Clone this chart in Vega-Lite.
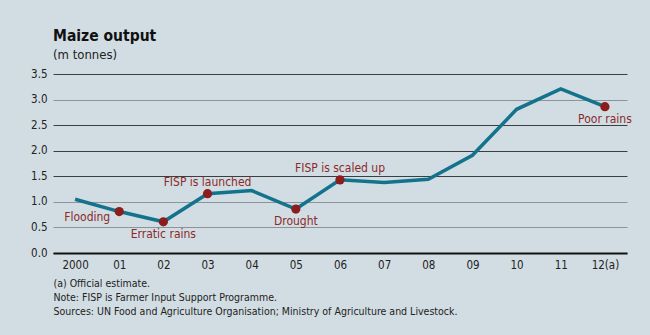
{
  "$schema": "https://vega.github.io/schema/vega-lite/v6.json",
  "width": 574,
  "height": 179,
  "autosize": "none",
  "padding": {"left": 53, "top": 74, "right": 23, "bottom": 82},
  "background": "#d2dde3",
  "config": {
    "font": "DejaVu Sans Condensed, Roboto, sans-serif",
    "view": {"stroke": null},
    "axis": {"labelFont": "DejaVu Sans Condensed, Roboto, sans-serif", "titleFont": "DejaVu Sans Condensed, Roboto, sans-serif"}
  },
  "title": {
    "text": "Maize output",
    "subtitle": "(m tonnes)",
    "anchor": "start",
    "frame": "group",
    "font": "DejaVu Sans Condensed, Roboto, sans-serif",
    "fontSize": 15.5,
    "fontWeight": "bold",
    "color": "#111",
    "subtitleFont": "DejaVu Sans Condensed, Roboto, sans-serif",
    "subtitleFontSize": 13,
    "subtitleColor": "#222",
    "subtitlePadding": 5,
    "offset": 6
  },
  "data": {
    "values": [
      {"label": "2000", "output": 1.05, "note": null, "place": null},
      {"label": "01", "output": 0.81, "note": "Flooding", "place": "left"},
      {"label": "02", "output": 0.61, "note": "Erratic rains", "place": "below"},
      {"label": "03", "output": 1.16, "note": "FISP is launched", "place": "above"},
      {"label": "04", "output": 1.22, "note": null, "place": null},
      {"label": "05", "output": 0.86, "note": "Drought", "place": "below"},
      {"label": "06", "output": 1.43, "note": "FISP is scaled up", "place": "above"},
      {"label": "07", "output": 1.38, "note": null, "place": null},
      {"label": "08", "output": 1.44, "note": null, "place": null},
      {"label": "09", "output": 1.91, "note": null, "place": null},
      {"label": "10", "output": 2.81, "note": null, "place": null},
      {"label": "11", "output": 3.21, "note": null, "place": null},
      {"label": "12(a)", "output": 2.86, "note": "Poor rains", "place": "below"}
    ]
  },
  "encoding": {
    "x": {
      "field": "label",
      "type": "ordinal",
      "sort": null,
      "scale": {"type": "point", "padding": 0.5},
      "axis": {
        "labelAngle": 0,
        "labelFontSize": 11.5,
        "labelColor": "#222",
        "labelPadding": 6,
        "ticks": false,
        "grid": false,
        "domainColor": "#111",
        "domainWidth": 2,
        "title": ["(a) Official estimate.", "Note: FISP is Farmer Input Support Programme.", "Sources: UN Food and Agriculture Organisation; Ministry of Agriculture and Livestock."],
        "titleAnchor": "start",
        "titleAlign": "left",
        "titleFontSize": 10.5,
        "titleFontWeight": "normal",
        "titleColor": "#222",
        "titleLineHeight": 14,
        "titlePadding": 8
      }
    },
    "y": {
      "field": "output",
      "type": "quantitative",
      "scale": {"domain": [0, 3.5]},
      "axis": {
        "values": [0, 0.5, 1, 1.5, 2, 2.5, 3, 3.5],
        "format": ".1f",
        "title": null,
        "domain": false,
        "ticks": false,
        "labelPadding": 6,
        "labelFontSize": 11.5,
        "labelColor": "#222",
        "gridColor": {"condition": {"test": "datum.value === 3 || datum.value === 1 || datum.value === 0.5", "value": "#8a949a"}, "value": "#3a3f42"},
        "gridWidth": 1
      }
    }
  },
  "layer": [
    {"mark": {"type": "line", "color": "#13728c", "strokeWidth": 3.5}},
    {
      "transform": [{"filter": "datum.note != null"}],
      "mark": {"type": "circle", "color": "#8b1d1d", "opacity": 1, "size": 85}
    },
    {
      "transform": [{"filter": "datum.place === 'above'"}],
      "mark": {"type": "text", "dy": -12, "fontSize": 12, "color": "#8b2a2a"},
      "encoding": {"text": {"field": "note"}}
    },
    {
      "transform": [{"filter": "datum.place === 'below'"}],
      "mark": {"type": "text", "dy": 12, "fontSize": 12, "color": "#8b2a2a"},
      "encoding": {"text": {"field": "note"}}
    },
    {
      "transform": [{"filter": "datum.place === 'left'"}],
      "mark": {"type": "text", "align": "right", "dx": -9, "dy": 5, "fontSize": 12, "color": "#8b2a2a"},
      "encoding": {"text": {"field": "note"}}
    }
  ]
}
